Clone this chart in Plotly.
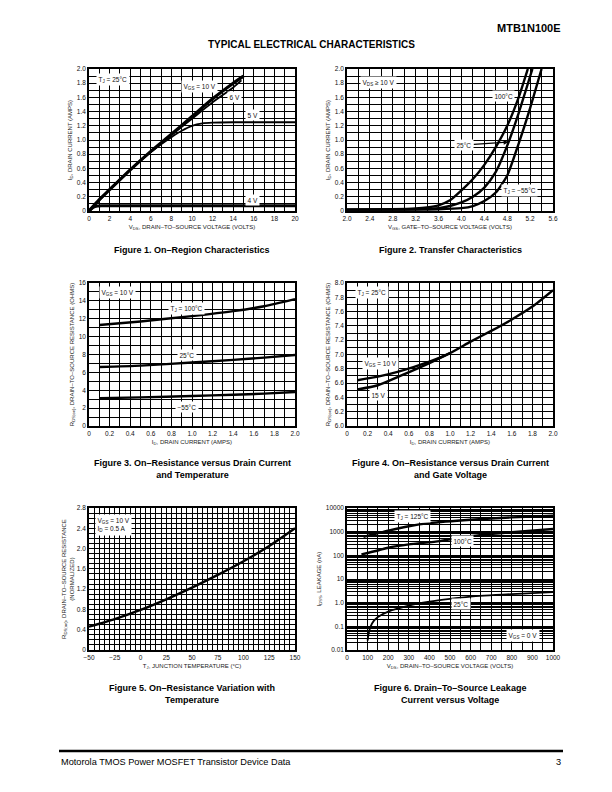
import numpy as np
import plotly.graph_objects as go

FONT = "Liberation Sans, Arial, sans-serif"
NARROW = "Liberation Sans Narrow, Arial Narrow, Liberation Sans, sans-serif"

# ---------------- Figure 1: On-Region Characteristics ----------------
F1_VDS_10V = [0, 1, 2, 4, 6, 8, 10, 12, 14, 15]
F1_ID_10V = [0, 0.16, 0.30, 0.58, 0.84, 1.08, 1.33, 1.58, 1.80, 1.90]
F1_VDS_6V = [0, 2, 4, 6, 8, 10, 12, 14, 14.8]
F1_ID_6V = [0, 0.30, 0.58, 0.83, 1.07, 1.30, 1.53, 1.74, 1.84]
F1_VDS_5V = [0, 2, 4, 6, 7, 8, 9, 10, 11, 12, 14, 20]
F1_ID_5V = [0, 0.30, 0.58, 0.83, 0.94, 1.04, 1.13, 1.20, 1.235, 1.245, 1.25, 1.25]
F1_VDS_4V = [0, 0.4, 0.8, 1.2, 20]
F1_ID_4V = [0, 0.05, 0.07, 0.075, 0.075]
F1_X_TICKVALS = [0, 2, 4, 6, 8, 10, 12, 14, 16, 18, 20]
F1_X_TICKTEXT = ["0", "2", "4", "6", "8", "10", "12", "14", "16", "18", "20"]
F1_Y_TICKVALS = [0, 0.2, 0.4, 0.6, 0.8, 1.0, 1.2, 1.4, 1.6, 1.8, 2.0]
F1_Y_TICKTEXT = ["0", "0.2", "0.4", "0.6", "0.8", "1.0", "1.2", "1.4", "1.6", "1.8", "2.0"]

# ---------------- Figure 2: Transfer Characteristics ----------------
F2_VGS_100C = [2.0, 2.8, 3.2, 3.4, 3.6, 3.8, 4.0, 4.2, 4.4, 4.6, 4.8, 5.0, 5.16]
F2_ID_100C = [0.02, 0.025, 0.035, 0.05, 0.08, 0.15, 0.29, 0.45, 0.65, 0.90, 1.20, 1.60, 2.0]
F2_VGS_25C = [2.0, 3.2, 3.6, 3.8, 4.0, 4.2, 4.4, 4.6, 4.8, 5.0, 5.24]
F2_ID_25C = [0.02, 0.025, 0.04, 0.07, 0.12, 0.20, 0.33, 0.55, 0.92, 1.38, 2.0]
F2_VGS_M55C = [2.0, 3.6, 4.0, 4.2, 4.4, 4.6, 4.8, 5.0, 5.2, 5.4]
F2_ID_M55C = [0.02, 0.025, 0.04, 0.07, 0.14, 0.26, 0.50, 0.95, 1.45, 2.0]
F2_X_TICKVALS = [2.0, 2.4, 2.8, 3.2, 3.6, 4.0, 4.4, 4.8, 5.2, 5.6]
F2_X_TICKTEXT = ["2.0", "2.4", "2.8", "3.2", "3.6", "4.0", "4.4", "4.8", "5.2", "5.6"]
F2_Y_TICKVALS = F1_Y_TICKVALS
F2_Y_TICKTEXT = F1_Y_TICKTEXT

# ---------------- Figure 3: On-Resistance vs Drain Current & Temperature ----------------
F3_ID = [0.1, 0.5, 1.0, 1.4, 1.7, 2.0]
F3_R_100C = [11.3, 11.7, 12.3, 12.85, 13.4, 14.2]
F3_R_25C = [6.6, 6.75, 7.1, 7.4, 7.65, 7.95]
F3_R_M55C = [3.1, 3.2, 3.35, 3.5, 3.62, 3.8]
F3_X_TICKVALS = [0, 0.2, 0.4, 0.6, 0.8, 1.0, 1.2, 1.4, 1.6, 1.8, 2.0]
F3_X_TICKTEXT = ["0", "0.2", "0.4", "0.6", "0.8", "1.0", "1.2", "1.4", "1.6", "1.8", "2.0"]
F3_Y_TICKVALS = [0, 2, 4, 6, 8, 10, 12, 14, 16]
F3_Y_TICKTEXT = ["0", "2", "4", "6", "8", "10", "12", "14", "16"]

# ---------------- Figure 4: On-Resistance vs Drain Current & Gate Voltage ----------------
F4_ID_10V = [0.1, 0.3, 0.5, 0.8, 1.0, 1.2, 1.4, 1.6, 1.8, 2.0]
F4_R_10V = [6.64, 6.69, 6.76, 6.90, 7.02, 7.18, 7.33, 7.49, 7.67, 7.90]
F4_ID_15V = [0.1, 0.3, 0.5, 0.8, 1.0]
F4_R_15V = [6.51, 6.57, 6.69, 6.88, 7.02]
F4_X_TICKVALS = F3_X_TICKVALS
F4_X_TICKTEXT = F3_X_TICKTEXT
F4_Y_TICKVALS = [6.0, 6.2, 6.4, 6.6, 6.8, 7.0, 7.2, 7.4, 7.6, 7.8, 8.0]
F4_Y_TICKTEXT = ["6.0", "6.2", "6.4", "6.6", "6.8", "7.0", "7.2", "7.4", "7.6", "7.8", "8.0"]

# ---------------- Figure 5: On-Resistance Variation with Temperature ----------------
F5_TJ = [-50, -25, 0, 25, 50, 75, 100, 125, 150]
F5_RNORM = [0.46, 0.61, 0.79, 1.0, 1.23, 1.48, 1.75, 2.05, 2.40]
F5_X_TICKVALS = [-50, -25, 0, 25, 50, 75, 100, 125, 150]
F5_X_TICKTEXT = ["\u221250", "\u221225", "0", "25", "50", "75", "100", "125", "150"]
F5_Y_TICKVALS = [0, 0.4, 0.8, 1.2, 1.6, 2.0, 2.4, 2.8]
F5_Y_TICKTEXT = ["0", "0.4", "0.8", "1.2", "1.6", "2.0", "2.4", "2.8"]

# ---------------- Figure 6: Drain-To-Source Leakage vs Voltage ----------------
F6_VDS_125C = [80, 200, 300, 400, 600, 800, 1000]
F6_I_125C = [600, 1100, 1700, 2300, 3200, 4000, 4700]
F6_VDS_100C = [70, 150, 200, 300, 450, 600, 800, 1000]
F6_I_100C = [110, 160, 210, 290, 400, 650, 950, 1300]
F6_VDS_25C = [100, 105, 115, 130, 150, 200, 300, 400, 500, 600, 800, 1000]
F6_I_25C = [0.025, 0.05, 0.1, 0.17, 0.25, 0.42, 0.75, 1.1, 1.45, 1.8, 2.3, 2.8]
F6_X_TICKVALS = [0, 100, 200, 300, 400, 500, 600, 700, 800, 900, 1000]
F6_X_TICKTEXT = ["0", "100", "200", "300", "400", "500", "600", "700", "800", "900", "1000"]
F6_Y_TICKVALS = [0.01, 0.1, 1, 10, 100, 1000, 10000]
F6_Y_TICKTEXT = ["0.01", "0.1", "1.0", "10", "100", "1000", "10000"]

# ---------------- layout geometry ----------------
W, H = 612, 792
def px_x(a, b):
    return [a / W, b / W]
def px_y(top, bottom):
    return [1 - bottom / H, 1 - top / H]

LEFT = px_x(89, 295)
RIGHT = px_x(347, 553)
ROW1 = px_y(69, 211)
ROW2 = px_y(283, 426)
ROW3 = px_y(508, 650)
GRID_W = 1.2


def axis(domain, anchor, rng, grid, tickvals, ticktext, title, typ="linear", standoff=4):
    return dict(
        domain=domain, anchor=anchor, range=rng, type=typ, automargin=False,
        tickmode="array", tickvals=tickvals, ticktext=ticktext,
        showgrid=True, gridcolor="black", gridwidth=GRID_W,
        minor=dict(tickmode="array", tickvals=list(grid), showgrid=True,
                   gridcolor="black", gridwidth=GRID_W, ticks=""),
        showline=True, linecolor="black", linewidth=1.6, mirror=True,
        ticks="", zeroline=False, fixedrange=True,
        tickfont=dict(family=FONT, size=6.5, color="#111"),
        title=dict(text=title, font=dict(family=FONT, size=6, color="#222"), standoff=standoff),
    )


fig = go.Figure()

def add(x, y, xa, ya, width=2.4):
    fig.add_trace(go.Scatter(x=x, y=y, xaxis=xa, yaxis=ya, mode="lines",
                             line=dict(color="black", width=width, shape="spline", smoothing=0.6),
                             showlegend=False, hoverinfo="skip"))

# Fig 1
add(F1_VDS_5V, F1_ID_5V, "x", "y", 1.8)
add(F1_VDS_6V, F1_ID_6V, "x", "y", 1.8)
add(F1_VDS_10V, F1_ID_10V, "x", "y", 3.2)
add(F1_VDS_4V, F1_ID_4V, "x", "y", 3.0)
# Fig 2
add(F2_VGS_100C, F2_ID_100C, "x2", "y2")
add(F2_VGS_25C, F2_ID_25C, "x2", "y2")
add(F2_VGS_M55C, F2_ID_M55C, "x2", "y2")
# Fig 3
add(F3_ID, F3_R_100C, "x3", "y3")
add(F3_ID, F3_R_25C, "x3", "y3")
add(F3_ID, F3_R_M55C, "x3", "y3")
# Fig 4
add(F4_ID_10V, F4_R_10V, "x4", "y4")
add(F4_ID_15V, F4_R_15V, "x4", "y4")
# Fig 5
add(F5_TJ, F5_RNORM, "x5", "y5")
# Fig 6
add(F6_VDS_125C, F6_I_125C, "x6", "y6")
add(F6_VDS_100C, F6_I_100C, "x6", "y6")
add(F6_VDS_25C, F6_I_25C, "x6", "y6", 1.8)

lin = lambda a, b, s: [float(v) for v in np.round(np.arange(a, b + s / 2, s), 6)]
log_grid = [d * 10.0 ** e for e in range(-2, 4) for d in range(1, 10)] + [10000]

fig.update_layout(
    xaxis=axis(LEFT, "y", [0, 20], lin(0, 20, 1), F1_X_TICKVALS, F1_X_TICKTEXT,
               "V<sub>DS</sub>, DRAIN\u2013TO\u2013SOURCE VOLTAGE (VOLTS)"),
    yaxis=axis(ROW1, "x", [0, 2], lin(0, 2, 0.1), F1_Y_TICKVALS, F1_Y_TICKTEXT,
               "I<sub>D</sub>, DRAIN CURRENT (AMPS)"),
    xaxis2=axis(RIGHT, "y2", [2.0, 5.6], lin(2.0, 5.6, 0.2), F2_X_TICKVALS, F2_X_TICKTEXT,
                "V<sub>GS</sub>, GATE\u2013TO\u2013SOURCE VOLTAGE (VOLTS)"),
    yaxis2=axis(ROW1, "x2", [0, 2], lin(0, 2, 0.1), F2_Y_TICKVALS, F2_Y_TICKTEXT,
                "I<sub>D</sub>, DRAIN CURRENT (AMPS)"),
    xaxis3=axis(LEFT, "y3", [0, 2], lin(0, 2, 0.1), F3_X_TICKVALS, F3_X_TICKTEXT,
                "I<sub>D</sub>, DRAIN CURRENT (AMPS)"),
    yaxis3=axis(ROW2, "x3", [0, 16], lin(0, 16, 1), F3_Y_TICKVALS, F3_Y_TICKTEXT,
                "R<sub>DS(on)</sub>, DRAIN\u2013TO\u2013SOURCE RESISTANCE (OHMS)"),
    xaxis4=axis(RIGHT, "y4", [0, 2], lin(0, 2, 0.1), F4_X_TICKVALS, F4_X_TICKTEXT,
                "I<sub>D</sub>, DRAIN CURRENT (AMPS)"),
    yaxis4=axis(ROW2, "x4", [6, 8], lin(6, 8, 0.1), F4_Y_TICKVALS, F4_Y_TICKTEXT,
                "R<sub>DS(on)</sub>, DRAIN\u2013TO\u2013SOURCE RESISTANCE (OHMS)"),
    xaxis5=axis(LEFT, "y5", [-50, 150], lin(-50, 150, 5), F5_X_TICKVALS, F5_X_TICKTEXT,
                "T<sub>J</sub>, JUNCTION TEMPERATURE (\u00b0C)"),
    yaxis5=axis(ROW3, "x5", [0, 2.8], lin(0, 2.8, 0.1), F5_Y_TICKVALS, F5_Y_TICKTEXT,
                "R<sub>DS(on)</sub>, DRAIN\u2013TO\u2013SOURCE RESISTANCE<br>(NORMALIZED)", standoff=2),
    xaxis6=axis(RIGHT, "y6", [0, 1000], lin(0, 1000, 50), F6_X_TICKVALS, F6_X_TICKTEXT,
                "V<sub>DS</sub>, DRAIN\u2013TO\u2013SOURCE VOLTAGE (VOLTS)"),
    yaxis6=axis(ROW3, "x6", [-2, 4], log_grid, F6_Y_TICKVALS, F6_Y_TICKTEXT,
                "I<sub>DSS</sub>, LEAKAGE (nA)", typ="log"),
)

ann = []
def lab(text, x, y, xr, yr, size=6.5, align="center", **kw):
    d = dict(text=text, x=x, y=y, xref=xr, yref=yr, showarrow=False,
             bgcolor="white", borderpad=1.5, align=align,
             font=dict(family=FONT, size=size, color="#111"))
    d.update(kw)
    ann.append(d)

# Fig 1 labels
lab("T<sub>J</sub> = 25\u00b0C", 2.3, 1.85, "x", "y")
lab("V<sub>GS</sub> = 10 V", 10.7, 1.75, "x", "y")
lab("6 V", 14.1, 1.60, "x", "y")
lab("5 V", 15.9, 1.35, "x", "y")
lab("4 V", 15.9, 0.16, "x", "y")
# Fig 2 labels
lab("V<sub>DS</sub> \u2265 10 V", 2.55, 1.81, "x2", "y2")
lab("100\u00b0C", 4.73, 1.62, "x2", "y2")
ann.append(dict(text="25\u00b0C", x=4.82, y=0.97, xref="x2", yref="y2",
                ax=4.05, ay=0.93, axref="x2", ayref="y2", showarrow=True,
                arrowhead=2, arrowsize=0.8, arrowwidth=1.2, arrowcolor="black",
                bgcolor="white", borderpad=1.5,
                font=dict(family=FONT, size=6.5, color="#111")))
lab("T<sub>J</sub> = \u221255\u00b0C", 5.02, 0.29, "x2", "y2")
# Fig 3 labels
lab("V<sub>GS</sub> = 10 V", 0.28, 14.9, "x3", "y3")
lab("T<sub>J</sub> = 100\u00b0C", 0.95, 13.2, "x3", "y3")
lab("25\u00b0C", 0.95, 7.95, "x3", "y3")
lab("\u221255\u00b0C", 0.95, 2.15, "x3", "y3")
# Fig 4 labels
lab("T<sub>J</sub> = 25\u00b0C", 0.24, 7.87, "x4", "y4")
lab("V<sub>GS</sub> = 10 V", 0.33, 6.87, "x4", "y4")
lab("15 V", 0.31, 6.43, "x4", "y4")
# Fig 5 labels
lab("V<sub>GS</sub> = 10 V<br>I<sub>D</sub> = 0.5 A", -26, 2.47, "x5", "y5", align="left")
# Fig 6 labels
lab("T<sub>J</sub> = 125\u00b0C", 320, np.log10(4300), "x6", "y6")
lab("100\u00b0C", 560, np.log10(390), "x6", "y6")
lab("25\u00b0C", 555, np.log10(0.85), "x6", "y6")
lab("V<sub>GS</sub> = 0 V", 853, np.log10(0.04), "x6", "y6")

# Captions
def cap(text, xc, yc):
    ann.append(dict(text="<b>" + text + "</b>", x=xc / W, y=1 - yc / H, xref="paper", yref="paper",
                    showarrow=False, align="center", xanchor="center", yanchor="middle",
                    font=dict(family=NARROW, size=9, color="black")))

cap("Figure 1. On\u2013Region Characteristics", 192, 250)
cap("Figure 2. Transfer Characteristics", 450, 250)
cap("Figure 3. On\u2013Resistance versus Drain Current<br>and Temperature", 192, 469)
cap("Figure 4. On\u2013Resistance versus Drain Current<br>and Gate Voltage", 450, 469)
cap("Figure 5. On\u2013Resistance Variation with<br>Temperature", 192, 694)
cap("Figure 6. Drain\u2013To\u2013Source Leakage<br>Current versus Voltage", 450, 694)

# Header / footer
ann.append(dict(text="<b>MTB1N100E</b>", x=563 / W, y=1 - 28 / H, xref="paper", yref="paper",
                xanchor="right", yanchor="middle", showarrow=False,
                font=dict(family=FONT, size=11, color="black")))
ann.append(dict(text="<b>TYPICAL ELECTRICAL CHARACTERISTICS</b>", x=311 / W, y=1 - 44 / H,
                xref="paper", yref="paper", xanchor="center", yanchor="middle", showarrow=False,
                font=dict(family=FONT, size=10, color="black")))
ann.append(dict(text="Motorola TMOS Power MOSFET Transistor Device Data", x=59 / W, y=1 - 762 / H,
                xref="paper", yref="paper", xanchor="left", yanchor="middle", showarrow=False,
                font=dict(family=FONT, size=9.2, color="black")))
ann.append(dict(text="3", x=563 / W, y=1 - 762 / H, xref="paper", yref="paper",
                xanchor="right", yanchor="middle", showarrow=False,
                font=dict(family=FONT, size=9.2, color="black")))

fig.update_layout(
    annotations=ann,
    shapes=[dict(type="line", xref="paper", yref="paper", x0=59 / W, x1=563 / W,
                 y0=1 - 751 / H, y1=1 - 751 / H, line=dict(color="black", width=2.5))],
    width=W, height=H, margin=dict(l=0, r=0, t=0, b=0, autoexpand=False),
    paper_bgcolor="white", plot_bgcolor="white", showlegend=False,
    font=dict(family=FONT, color="black"),
)

fig.write_html("out.html", config={"displayModeBar": False},
               post_script="document.body.style.margin='0px';document.body.style.padding='0px';")
